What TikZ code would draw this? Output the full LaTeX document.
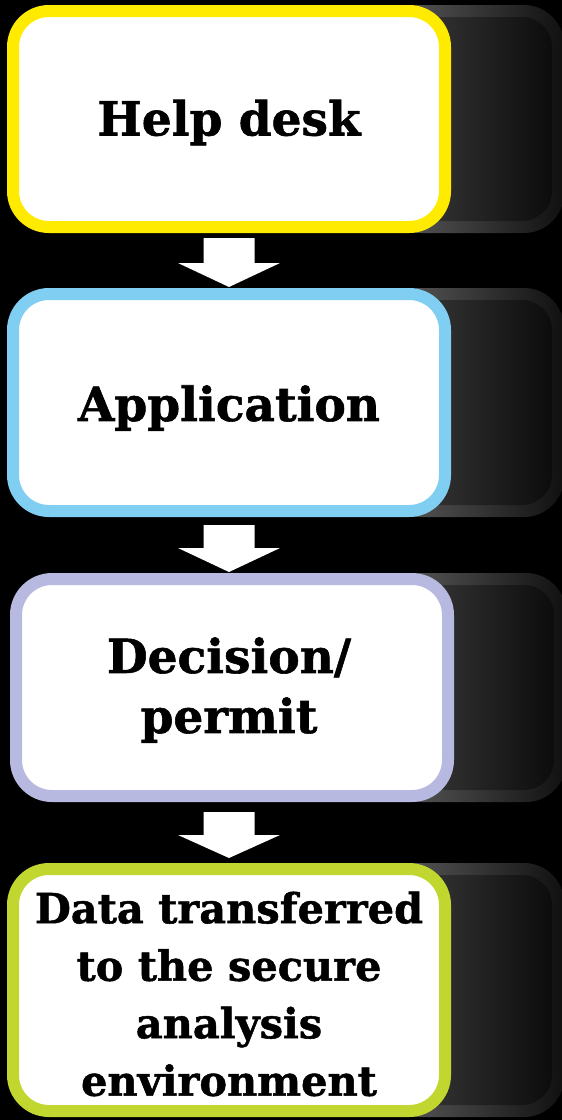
\documentclass[tikz,border=0pt]{standalone}
\usepackage{fontspec}
\setmainfont{DejaVu Serif}[BoldFeatures={FakeBold=1.2}]
\definecolor{cyel}{RGB}{255,235,0}
\definecolor{cblue}{RGB}{128,207,242}
\definecolor{clav}{RGB}{184,185,224}
\definecolor{cgreen}{RGB}{193,215,47}
\definecolor{gA}{RGB}{96,96,96}
\definecolor{gB}{RGB}{16,16,16}
\definecolor{gC}{RGB}{62,62,62}
\definecolor{gD}{RGB}{12,12,12}
\tikzset{
  backbox/.style={rounded corners=40pt, left color=gA, right color=gB},
  backinner/.style={rounded corners=30pt, left color=gC, right color=gD},
  stepbox/.style={draw=#1, line width=12pt, fill=white, rounded corners=36pt},
  boxtext/.style={align=center, text=black, font=\fontsize{47}{60}\selectfont\bfseries},
  smalltext/.style={align=center, text=black, font=\fontsize{41.5}{57.5}\selectfont\bfseries},
  blockarrow/.style={fill=white, draw=none}
}
\begin{document}
\begin{tikzpicture}[x=1pt,y=-1pt]
\useasboundingbox (0,0) rectangle (562,1120);
\fill[black] (0,0) rectangle (562,1120);
% back boxes
\path[backbox] (380,5) rectangle (564,233);
\path[backinner] (392,17) rectangle (552,221);
\path[backbox] (380,288) rectangle (564,517);
\path[backinner] (392,300) rectangle (552,505);
\path[backbox] (383,573) rectangle (566,802);
\path[backinner] (395,585) rectangle (554,790);
\path[backbox] (380,863) rectangle (564,1117);
\path[backinner] (392,875) rectangle (552,1105);
% front boxes
\draw[stepbox=cyel] (13,11) rectangle (445,227);
\draw[stepbox=cblue] (13,294) rectangle (445,511);
\draw[stepbox=clav] (16,579) rectangle (448,796);
\draw[stepbox=cgreen] (13,869) rectangle (445,1111);
% texts
\node[boxtext] (t1) at (229,122.5) {Help desk};
\node[boxtext] (t2) at (229,408) {Application};
\node[boxtext] (t3) at (229,690) {Decision/\\permit};
\node[smalltext] (t4) at (229,994) {Data transferred\\to the secure\\analysis\\environment};
% arrows
\fill[blockarrow] (203.5,238) -- (254.5,238) -- (254.5,263) -- (280,263) -- (229,287) -- (178,263) -- (203.5,263) -- cycle;
\fill[blockarrow] (203.5,525) -- (254.5,525) -- (254.5,548) -- (280,548) -- (229,572) -- (178,548) -- (203.5,548) -- cycle;
\fill[blockarrow] (203.5,812) -- (254.5,812) -- (254.5,835) -- (280,835) -- (229,858) -- (178,835) -- (203.5,835) -- cycle;
\end{tikzpicture}
\end{document}
